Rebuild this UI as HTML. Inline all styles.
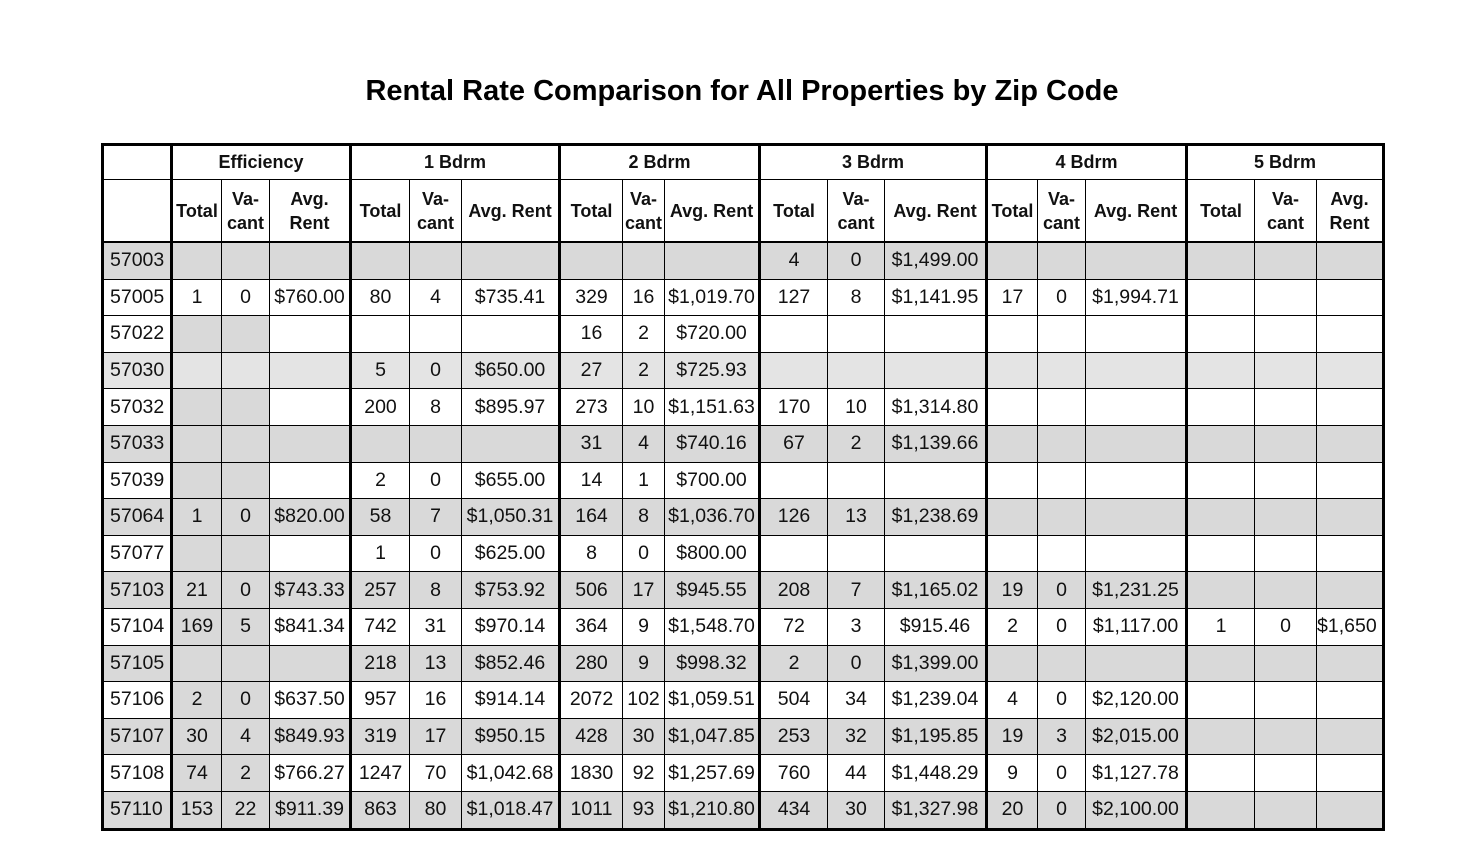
<!DOCTYPE html>
<html><head><meta charset="utf-8"><style>
body{margin:0;width:1472px;height:864px;background:#fff;position:relative;font-family:"Liberation Sans",Arial,sans-serif;}
h1{position:absolute;top:75px;left:0;width:1484px;text-align:center;margin:0;font-size:29px;font-weight:bold;color:#000;}
table{position:absolute;left:101px;top:143px;border-collapse:collapse;table-layout:fixed;width:1281px;}
td{border:1.5px solid #000;padding:0;text-align:center;font-size:19.5px;white-space:nowrap;overflow:hidden;height:35.6px;color:#111;}
tr.h1 td{height:33px;font-weight:bold;font-size:18px;}
tr.h2 td{height:61px;font-weight:bold;font-size:18px;line-height:24px;}
td.z{text-align:left;padding-left:6px;}
.b{border-left:3px solid #000;}
tr.g td{background:#d9d9d9;}
tr.l td{background:#e4e4e4;}
td.e{background:#d9d9d9;}
tr.h1 td,tr.h2 td{background:#fff;}
td.L{text-align:left;}
table{border:3px solid #000;}
tr.h2 td{border-bottom:2.5px solid #000;}
</style></head><body>
<h1>Rental Rate Comparison for All Properties by Zip Code</h1>
<table>
<colgroup><col style="width:69px"><col style="width:50px"><col style="width:48px"><col style="width:81px"><col style="width:59px"><col style="width:52px"><col style="width:98px"><col style="width:63px"><col style="width:42px"><col style="width:95px"><col style="width:68px"><col style="width:57px"><col style="width:102px"><col style="width:51px"><col style="width:48px"><col style="width:101px"><col style="width:68px"><col style="width:62px"><col style="width:67px"></colgroup>
<tr class="h1"><td></td><td class="b" colspan="3">Efficiency</td><td class="b" colspan="3">1 Bdrm</td><td class="b" colspan="3">2 Bdrm</td><td class="b" colspan="3">3 Bdrm</td><td class="b" colspan="3">4 Bdrm</td><td class="b" colspan="3">5 Bdrm</td></tr>
<tr class="h2"><td></td><td class="b">Total</td><td>Va-<br>cant</td><td>Avg.<br>Rent</td><td class="b">Total</td><td>Va-<br>cant</td><td>Avg. Rent</td><td class="b">Total</td><td>Va-<br>cant</td><td>Avg. Rent</td><td class="b">Total</td><td>Va-<br>cant</td><td>Avg. Rent</td><td class="b">Total</td><td>Va-<br>cant</td><td>Avg. Rent</td><td class="b">Total</td><td>Va-<br>cant</td><td>Avg.<br>Rent</td></tr>
<tr class="g"><td class="z">57003</td><td class="b"></td><td></td><td></td><td class="b"></td><td></td><td></td><td class="b"></td><td></td><td></td><td class="b">4</td><td>0</td><td>$1,499.00</td><td class="b"></td><td></td><td></td><td class="b"></td><td></td><td></td></tr>
<tr><td class="z">57005</td><td class="b">1</td><td>0</td><td>$760.00</td><td class="b">80</td><td>4</td><td>$735.41</td><td class="b">329</td><td>16</td><td>$1,019.70</td><td class="b">127</td><td>8</td><td>$1,141.95</td><td class="b">17</td><td>0</td><td>$1,994.71</td><td class="b"></td><td></td><td></td></tr>
<tr><td class="z">57022</td><td class="b e"></td><td class="e"></td><td></td><td class="b"></td><td></td><td></td><td class="b">16</td><td>2</td><td>$720.00</td><td class="b"></td><td></td><td></td><td class="b"></td><td></td><td></td><td class="b"></td><td></td><td></td></tr>
<tr class="l"><td class="z">57030</td><td class="b"></td><td></td><td></td><td class="b">5</td><td>0</td><td>$650.00</td><td class="b">27</td><td>2</td><td>$725.93</td><td class="b"></td><td></td><td></td><td class="b"></td><td></td><td></td><td class="b"></td><td></td><td></td></tr>
<tr><td class="z">57032</td><td class="b e"></td><td class="e"></td><td></td><td class="b">200</td><td>8</td><td>$895.97</td><td class="b">273</td><td>10</td><td>$1,151.63</td><td class="b">170</td><td>10</td><td>$1,314.80</td><td class="b"></td><td></td><td></td><td class="b"></td><td></td><td></td></tr>
<tr class="g"><td class="z">57033</td><td class="b"></td><td></td><td></td><td class="b"></td><td></td><td></td><td class="b">31</td><td>4</td><td>$740.16</td><td class="b">67</td><td>2</td><td>$1,139.66</td><td class="b"></td><td></td><td></td><td class="b"></td><td></td><td></td></tr>
<tr><td class="z">57039</td><td class="b e"></td><td class="e"></td><td></td><td class="b">2</td><td>0</td><td>$655.00</td><td class="b">14</td><td>1</td><td>$700.00</td><td class="b"></td><td></td><td></td><td class="b"></td><td></td><td></td><td class="b"></td><td></td><td></td></tr>
<tr class="g"><td class="z">57064</td><td class="b">1</td><td>0</td><td>$820.00</td><td class="b">58</td><td>7</td><td>$1,050.31</td><td class="b">164</td><td>8</td><td>$1,036.70</td><td class="b">126</td><td>13</td><td>$1,238.69</td><td class="b"></td><td></td><td></td><td class="b"></td><td></td><td></td></tr>
<tr><td class="z">57077</td><td class="b e"></td><td class="e"></td><td></td><td class="b">1</td><td>0</td><td>$625.00</td><td class="b">8</td><td>0</td><td>$800.00</td><td class="b"></td><td></td><td></td><td class="b"></td><td></td><td></td><td class="b"></td><td></td><td></td></tr>
<tr class="g"><td class="z">57103</td><td class="b">21</td><td>0</td><td>$743.33</td><td class="b">257</td><td>8</td><td>$753.92</td><td class="b">506</td><td>17</td><td>$945.55</td><td class="b">208</td><td>7</td><td>$1,165.02</td><td class="b">19</td><td>0</td><td>$1,231.25</td><td class="b"></td><td></td><td></td></tr>
<tr><td class="z">57104</td><td class="b e">169</td><td class="e">5</td><td>$841.34</td><td class="b">742</td><td>31</td><td>$970.14</td><td class="b">364</td><td>9</td><td>$1,548.70</td><td class="b">72</td><td>3</td><td>$915.46</td><td class="b">2</td><td>0</td><td>$1,117.00</td><td class="b">1</td><td>0</td><td class="L">$1,650</td></tr>
<tr class="g"><td class="z">57105</td><td class="b"></td><td></td><td></td><td class="b">218</td><td>13</td><td>$852.46</td><td class="b">280</td><td>9</td><td>$998.32</td><td class="b">2</td><td>0</td><td>$1,399.00</td><td class="b"></td><td></td><td></td><td class="b"></td><td></td><td></td></tr>
<tr><td class="z">57106</td><td class="b e">2</td><td class="e">0</td><td>$637.50</td><td class="b">957</td><td>16</td><td>$914.14</td><td class="b">2072</td><td>102</td><td>$1,059.51</td><td class="b">504</td><td>34</td><td>$1,239.04</td><td class="b">4</td><td>0</td><td>$2,120.00</td><td class="b"></td><td></td><td></td></tr>
<tr class="g"><td class="z">57107</td><td class="b">30</td><td>4</td><td>$849.93</td><td class="b">319</td><td>17</td><td>$950.15</td><td class="b">428</td><td>30</td><td>$1,047.85</td><td class="b">253</td><td>32</td><td>$1,195.85</td><td class="b">19</td><td>3</td><td>$2,015.00</td><td class="b"></td><td></td><td></td></tr>
<tr><td class="z">57108</td><td class="b e">74</td><td class="e">2</td><td>$766.27</td><td class="b">1247</td><td>70</td><td>$1,042.68</td><td class="b">1830</td><td>92</td><td>$1,257.69</td><td class="b">760</td><td>44</td><td>$1,448.29</td><td class="b">9</td><td>0</td><td>$1,127.78</td><td class="b"></td><td></td><td></td></tr>
<tr class="g"><td class="z">57110</td><td class="b">153</td><td>22</td><td>$911.39</td><td class="b">863</td><td>80</td><td>$1,018.47</td><td class="b">1011</td><td>93</td><td>$1,210.80</td><td class="b">434</td><td>30</td><td>$1,327.98</td><td class="b">20</td><td>0</td><td>$2,100.00</td><td class="b"></td><td></td><td></td></tr>
</table>
</body></html>
